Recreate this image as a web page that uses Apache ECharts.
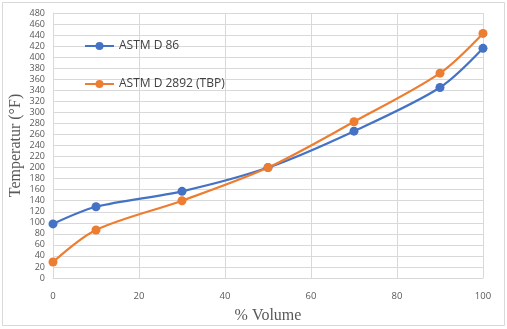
<!DOCTYPE html>
<html>
<head>
<meta charset="utf-8">
<script src="https://cdn.jsdelivr.net/npm/echarts@6/dist/echarts.min.js"></script>
<style>
html, body { margin: 0; padding: 0; background: #fff; }
#main { width: 507px; height: 329px; }
</style>
</head>
<body>
<div id="main"></div>
<script>
// % volume distilled
var volume = [0, 10, 30, 50, 70, 90, 100];
// temperatures (°F)
var astmD86 = [98, 129, 157, 200, 266, 345, 416];
var astmTBP = [29, 87, 140, 200, 283, 371, 443];

function pairs(xs, ys) {
    return xs.map(function (x, i) { return [x, ys[i]]; });
}

var chart = echarts.init(document.getElementById('main'));
chart.setOption({
    backgroundColor: '#fff',
    animation: false,
    graphic: [{
        type: 'rect',
        shape: { x: 2.5, y: 2.5, width: 502, height: 323 },
        style: { fill: 'none', stroke: '#d9d9d9', lineWidth: 1 }
    }],
    legend: {
        orient: 'vertical',
        left: 79,
        top: 35,
        itemGap: 26,
        itemWidth: 29,
        itemHeight: 10,
        textStyle: { fontFamily: 'Open Sans', fontSize: 12, color: '#404040' },
        data: ['ASTM D 86', 'ASTM D 2892 (TBP)']
    },
    grid: { left: 53, right: 24, top: 13, bottom: 51, outerBoundsMode: 'none' },
    xAxis: {
        type: 'value',
        min: 0,
        max: 100,
        interval: 20,
        name: '% Volume',
        nameLocation: 'middle',
        nameGap: 30,
        nameMoveOverlap: false,
        nameTextStyle: { fontFamily: 'Liberation Serif', fontSize: 16, color: '#595959' },
        axisLine: { lineStyle: { color: '#d9d9d9' } },
        axisTick: { show: false },
        axisLabel: { fontFamily: 'Open Sans', fontSize: 9.5, color: '#595959', margin: 13 },
        splitLine: { lineStyle: { color: '#d9d9d9' } }
    },
    yAxis: {
        type: 'value',
        min: 0,
        max: 480,
        interval: 20,
        name: 'Temperatur (°F)',
        nameLocation: 'middle',
        nameGap: 29,
        nameMoveOverlap: false,
        nameTextStyle: { fontFamily: 'Liberation Serif', fontSize: 16, color: '#595959' },
        axisLine: { show: true, lineStyle: { color: '#d9d9d9' } },
        axisTick: { show: false },
        axisLabel: { fontFamily: 'Open Sans', fontSize: 9, color: '#595959', margin: 8 },
        splitLine: { lineStyle: { color: '#d9d9d9' } }
    },
    series: [
        {
            name: 'ASTM D 86',
            type: 'line',
            smooth: 0.3,
            symbol: 'circle',
            symbolSize: 9,
            color: '#4472c4',
            lineStyle: { width: 2.2 },
            data: pairs(volume, astmD86)
        },
        {
            name: 'ASTM D 2892 (TBP)',
            type: 'line',
            smooth: 0.3,
            symbol: 'circle',
            symbolSize: 9,
            color: '#ed7d31',
            lineStyle: { width: 2.2 },
            data: pairs(volume, astmTBP)
        }
    ]
});
</script>
</body>
</html>
